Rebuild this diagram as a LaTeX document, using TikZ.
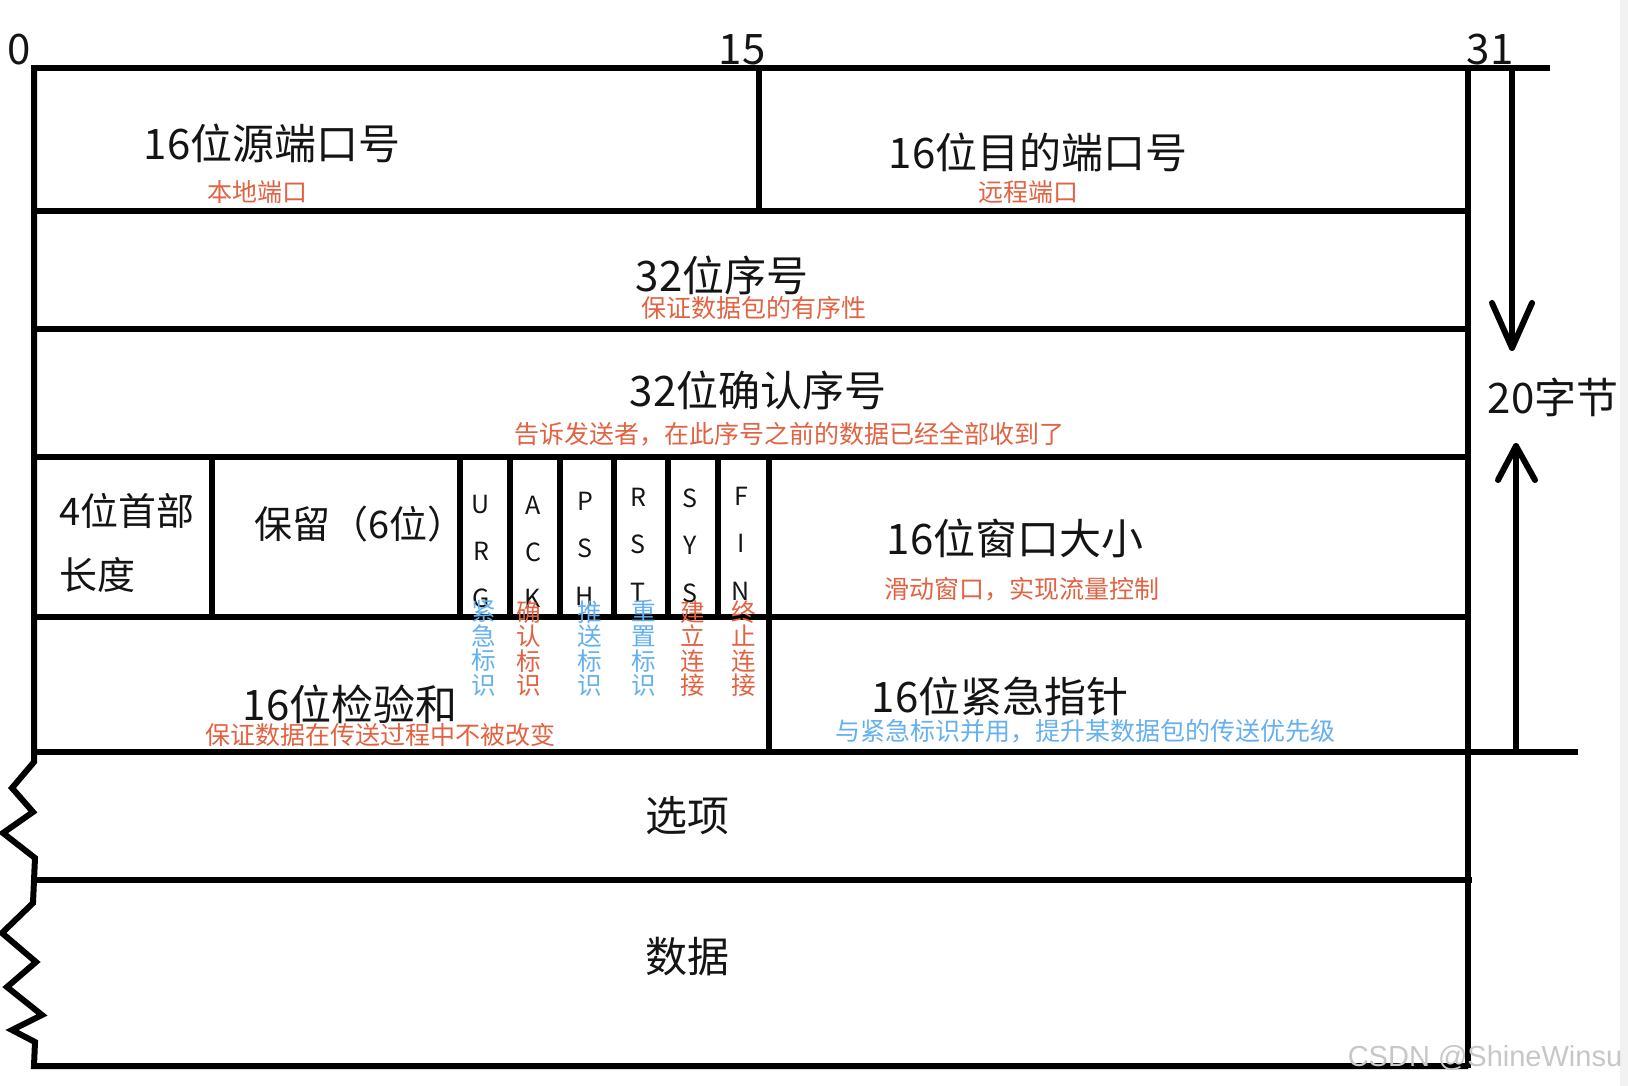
\documentclass[tikz,border=0pt]{standalone}
\usepackage{fontspec}
\setmainfont{Noto Sans CJK SC}
\newfontfamily\wmfont{Liberation Sans}
\definecolor{notered}{RGB}{226,98,66}
\definecolor{noteblue}{RGB}{100,176,240}
\definecolor{ink}{RGB}{20,20,20}
\begin{document}
\begin{tikzpicture}[x=0.5pt,y=-0.5pt,
  frame/.style={line width=3pt, draw=black},
  arrowline/.style={line width=3pt, draw=black, line cap=round, line join=round},
  big/.style={font=\fontsize{21}{21}\selectfont, text=ink, inner sep=0pt},
  mid/.style={font=\fontsize{19}{19}\selectfont, text=ink, inner sep=0pt},
  rednote/.style={font=\fontsize{12.5}{12.5}\selectfont, text=notered, inner sep=0pt},
  bluenote/.style={font=\fontsize{12.5}{12.5}\selectfont, text=noteblue, inner sep=0pt},
  flagch/.style={font=\fontsize{12.5}{12.5}\selectfont, text=ink, inner sep=0pt},
  vred/.style={font=\fontsize{12.3}{12.3}\selectfont, text=notered, inner sep=0pt, align=center},
  vblue/.style={font=\fontsize{12.3}{12.3}\selectfont, text=noteblue, inner sep=0pt, align=center},
]
\useasboundingbox (0,0) rectangle (1628,1086);
\fill[white] (0,0) rectangle (1628,1086);
\fill[black!5] (1620,0) rectangle (1628,1086);

% frame lines
\draw[frame] (31,68.5) -- (1550,68.5);
\draw[frame, line join=miter] (34,68.5) -- (34,762) -- (12,788) -- (33,812) -- (3,833) -- (35,858)
  -- (33,903) -- (2,933) -- (36,962) -- (7,987) -- (42,1015) -- (12,1030) -- (35,1042)
  -- (34,1066) -- (1468,1066);
\draw[frame] (1468,68.5) -- (1468,1068);
\draw[frame] (759,68.5) -- (759,211);
\draw[frame] (31,211) -- (1466,211);
\draw[frame] (34,329) -- (1466,329);
\draw[frame] (34,457) -- (1466,457);
\draw[frame] (34,617) -- (1466,617);
\draw[frame] (34,752) -- (1578,752);
\draw[frame] (34,880) -- (1472,880);
\foreach \xx in {212,460,510,560,614,668,718} \draw[frame] (\xx,457) -- (\xx,617);
\draw[frame] (769,457) -- (769,752);

% bit labels
\node[big] (b0) at (19,50) {0};
\node[big] (b15) at (742,50) {15};
\node[big] (b31) at (1490,50) {31};

% 20 bytes arrows
\node[big] (bytes) at (1553,397) {20字节};
\coordinate (dtop) at (1512,68.5);
\coordinate (dtip) at (1512,348);
\coordinate (ubot) at (1516,752);
\coordinate (utip) at (1516,446);
\draw[arrowline] (dtop) -- (dtip);
\draw[arrowline] (1492,303) -- (dtip) -- (1532,303);
\draw[arrowline] (ubot) -- (utip);
\draw[arrowline] (1498,480) -- (utip) -- (1535,480);

% row 1
\node[big] (src) at (272,143) {16位源端口号};
\node[rednote] (srcn) at (257,192) {本地端口};
\node[big] (dst) at (1038,152) {16位目的端口号};
\node[rednote] (dstn) at (1028,192) {远程端口};

% row 2
\node[big] (seq) at (722,275) {32位序号};
\node[rednote] (seqn) at (754,308) {保证数据包的有序性};

% row 3
\node[big] (ack) at (758,390) {32位确认序号};
\node[rednote] (ackn) at (789,434) {告诉发送者，在此序号之前的数据已经全部收到了};

% row 4
\node[mid, anchor=west] (hl1) at (59,511) {4位首部};
\node[mid, anchor=west] (hl2) at (59,575) {长度};
\node[mid] (rsv) at (360,524) {保留（6位）};
\node[big] (win) at (1015,538) {16位窗口大小};
\node[rednote] (winn) at (1022,589) {滑动窗口，实现流量控制};

% flags letters
\node[flagch] (u1) at (481,504) {U};
\node[flagch] (u2) at (481,551) {R};
\node[flagch] (u3) at (481,598) {G};
\node[flagch] (a1) at (533,505) {A};
\node[flagch] (a2) at (533,552) {C};
\node[flagch] (a3) at (533,598) {K};
\node[flagch] (p1) at (585,501) {P};
\node[flagch] (p2) at (585,548) {S};
\node[flagch] (p3) at (585,596) {H};
\node[flagch] (r1) at (638,497) {R};
\node[flagch] (r2) at (638,544) {S};
\node[flagch] (r3) at (638,592) {T};
\node[flagch] (s1) at (690,498) {S};
\node[flagch] (s2) at (690,545) {Y};
\node[flagch] (s3) at (690,593) {S};
\node[flagch] (f1) at (741,496) {F};
\node[flagch] (f2) at (741,543) {I};
\node[flagch] (f3) at (741,591) {N};

% flag captions (vertical)
\node[vblue, anchor=north] (cu) at (484,600) {紧\\急\\标\\识};
\node[vred, anchor=north] (ca) at (529,600) {确\\认\\标\\识};
\node[vblue, anchor=north] (cp) at (590,600) {推\\送\\标\\识};
\node[vblue, anchor=north] (cr) at (644,600) {重\\置\\标\\识};
\node[vred, anchor=north] (cs) at (693,600) {建\\立\\连\\接};
\node[vred, anchor=north] (cf) at (744,600) {终\\止\\连\\接};

% row 5
\node[big] (chk) at (350,704) {16位检验和};
\node[rednote] (chkn) at (380,735) {保证数据在传送过程中不被改变};
\node[big] (urg) at (1000,696) {16位紧急指针};
\node[bluenote] (urgn) at (1085,731) {与紧急标识并用，提升某数据包的传送优先级};

% options / data
\node[big] (opt) at (687,816) {选项};
\node[big] (dat) at (687,957) {数据};

% watermark
\node[inner sep=0pt, text=black!22, font=\wmfont\fontsize{14.5}{14.5}\selectfont] (wm) at (1485,1058) {CSDN @ShineWinsu};
\end{tikzpicture}
\end{document}
